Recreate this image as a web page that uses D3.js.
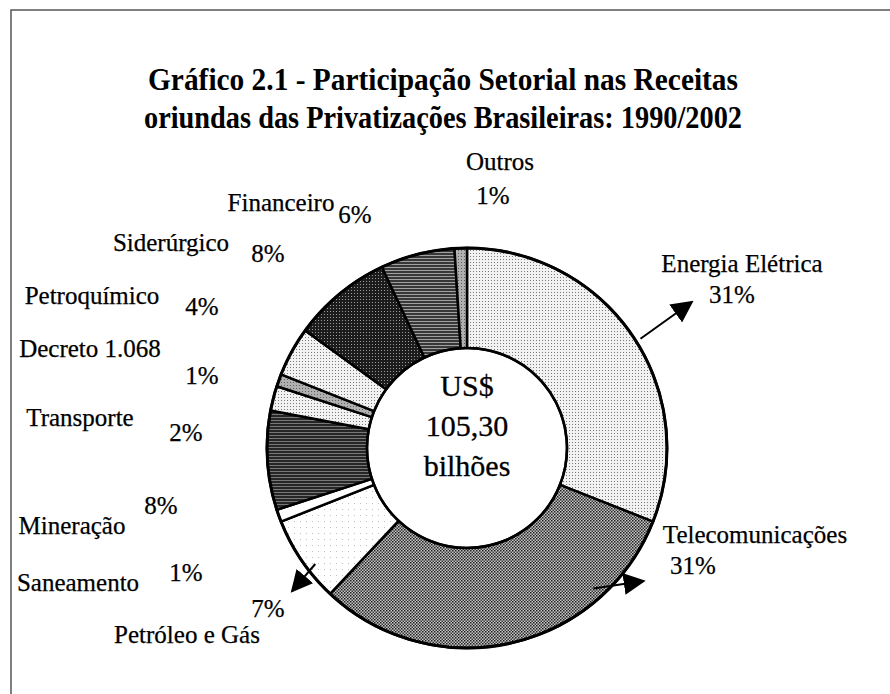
<!DOCTYPE html>
<html>
<head>
<meta charset="utf-8">
<script src="https://cdn.jsdelivr.net/npm/d3@7"></script>
<style>
  body { margin: 0; background: #fff; }
  text { font-family: "Liberation Serif", "Times New Roman", serif; fill: #000; }
</style>
</head>
<body>
<script>
const width = 890
const height = 694

// data
const sectors = ["Energia Elétrica", "Telecomunicações", "Petróleo e Gás", "Saneamento", "Mineração",
  "Transporte", "Decreto 1.068", "Petroquímico", "Siderúrgico", "Financeiro", "Outros"]
const shares = [31, 31, 7, 1, 8, 2, 1, 4, 8, 6, 1]
const titleLines = ["Gráfico 2.1 - Participação Setorial nas Receitas",
  "oriundas das Privatizações Brasileiras: 1990/2002"]
const centerLines = ["US$", "105,30", "bilhões"]

// fill pattern for each sector (same order)
const fills = ["dotsLight", "checker", "sparse", "white", "linesDark",
  "dotsLight", "grayMid", "dotsLight", "darkDots", "linesMid", "grayMid"]

// label placement: [name x, name y, pct x, pct y]
const labelPos = [
  [742, 272, 732, 303],
  [755, 543, 693, 574],
  [187, 643, 268, 617],
  [78, 591, 186, 581],
  [72, 534, 161, 514],
  [80, 426, 186, 441],
  [90, 357, 202, 384],
  [92, 304, 202, 315],
  [171, 251, 268, 262],
  [281, 211, 355, 223],
  [500, 170, 493, 204]
]

// arrows in polar coords around the ring: [angle0, r0, angle1, r1] (degrees)
const arrows = [
  [57.8, 205, 57, 268],
  [138, 189, 127, 221],
  [232.6, 191, 230.7, 226]
]

const cx = 467, cy = 448
const rOuter = 200, rInner = 100

const svg = d3.select("body").append("svg")
    .attr("viewBox", [0, 0, width, height])
    .attr("width", width)
    .attr("height", height)

const defs = svg.append("defs")
const pat = (id, size, bg, draw) => {
  const p = defs.append("pattern").attr("id", id)
      .attr("patternUnits", "userSpaceOnUse")
      .attr("width", size).attr("height", size)
  p.append("rect").attr("width", size).attr("height", size).attr("fill", bg)
  draw(p)
}
pat("dotsLight", 3, "#f2f2f2", p => {
  p.append("rect").attr("x", 0).attr("y", 0).attr("width", 1).attr("height", 1).attr("fill", "#7a7a7a")
})
pat("sparse", 6, "#ffffff", p => {
  p.append("rect").attr("x", 1).attr("y", 1).attr("width", 1).attr("height", 1).attr("fill", "#c0c0c0")
})
pat("checker", 3, "#c4c4c4", p => {
  p.append("rect").attr("x", 0).attr("y", 0).attr("width", 1.5).attr("height", 1.5).attr("fill", "#1e1e1e")
  p.append("rect").attr("x", 1.5).attr("y", 1.5).attr("width", 1.5).attr("height", 1.5).attr("fill", "#3a3a3a")
})
pat("linesDark", 3, "#262626", p => {
  p.append("rect").attr("x", 0).attr("y", 2).attr("width", 3).attr("height", 0.8).attr("fill", "#8c8c8c")
})
pat("linesMid", 3, "#383838", p => {
  p.append("rect").attr("x", 0).attr("y", 2).attr("width", 3).attr("height", 1).attr("fill", "#a0a0a0")
})
pat("darkDots", 3, "#1c1c1c", p => {
  p.append("rect").attr("x", 1).attr("y", 1).attr("width", 1).attr("height", 1).attr("fill", "#9a9a9a")
})
pat("grayMid", 3, "#b0b0b0", p => {
  p.append("rect").attr("x", 0).attr("y", 0).attr("width", 1).attr("height", 1).attr("fill", "#606060")
})
pat("white", 3, "#ffffff", p => {})

defs.append("marker").attr("id", "head")
    .attr("viewBox", "0 0 10 10").attr("refX", 9).attr("refY", 5)
    .attr("markerWidth", 22).attr("markerHeight", 22).attr("markerUnits", "userSpaceOnUse")
    .attr("orient", "auto")
  .append("path").attr("d", "M0,0L10,5L0,10z").attr("fill", "#000")

// frame (top and left edges only, as scanned)
svg.append("path")
    .attr("d", `M${width},10H11V${height}`)
    .attr("fill", "none").attr("stroke", "#555").attr("stroke-width", 1.5)

// title
const titleWidths = [590, 598]
svg.append("g").selectAll("text")
  .data(titleLines)
  .join("text")
    .attr("x", 443)
    .attr("y", (d, i) => 90 + i * 38)
    .attr("text-anchor", "middle")
    .attr("font-size", 31)
    .attr("font-weight", "bold")
    .attr("textLength", (d, i) => titleWidths[i])
    .attr("lengthAdjust", "spacingAndGlyphs")
    .text(d => d)

const data = sectors.map((s, i) => ({sector: s, share: shares[i], fill: fills[i]}))
const pie = d3.pie().value(d => d.share).sort(null)
const arc = d3.arc().innerRadius(rInner).outerRadius(rOuter)
const arcs = pie(data)

const ring = svg.append("g").attr("transform", `translate(${cx},${cy})`)
ring.selectAll("path")
  .data(arcs)
  .join("path")
    .attr("d", arc)
    .attr("fill", d => `url(#${d.data.fill})`)
    .attr("stroke", "#000")
    .attr("stroke-width", 2.5)
    .attr("stroke-linejoin", "round")

ring.append("circle").attr("r", rOuter).attr("fill", "none").attr("stroke", "#000").attr("stroke-width", 3)
ring.append("circle").attr("r", rInner).attr("fill", "none").attr("stroke", "#000").attr("stroke-width", 2.5)

// centre text
ring.selectAll("text.center")
  .data(centerLines)
  .join("text")
    .attr("class", "center")
    .attr("x", 0)
    .attr("y", (d, i) => -52 + i * 40)
    .attr("text-anchor", "middle")
    .attr("font-size", 30)
    .attr("stroke", "#000").attr("stroke-width", 0.3)
    .text(d => d)

// arrows
const rad = a => a * Math.PI / 180
ring.selectAll("line.arrow")
  .data(arrows)
  .join("line")
    .attr("class", "arrow")
    .attr("x1", d => d3.pointRadial(rad(d[0]), d[1])[0])
    .attr("y1", d => d3.pointRadial(rad(d[0]), d[1])[1])
    .attr("x2", d => d3.pointRadial(rad(d[2]), d[3])[0])
    .attr("y2", d => d3.pointRadial(rad(d[2]), d[3])[1])
    .attr("stroke", "#000")
    .attr("stroke-width", 2)
    .attr("marker-end", "url(#head)")

// labels
const labels = svg.append("g")
    .attr("font-size", 25)
    .attr("text-anchor", "middle")
    .attr("stroke", "#000").attr("stroke-width", 0.25)
labels.selectAll("text.name")
  .data(data)
  .join("text")
    .attr("class", "name")
    .attr("x", (d, i) => labelPos[i][0])
    .attr("y", (d, i) => labelPos[i][1])
    .text(d => d.sector)
labels.selectAll("text.pct")
  .data(data)
  .join("text")
    .attr("class", "pct")
    .attr("x", (d, i) => labelPos[i][2])
    .attr("y", (d, i) => labelPos[i][3])
    .text(d => d.share + "%")
</script>
</body>
</html>
